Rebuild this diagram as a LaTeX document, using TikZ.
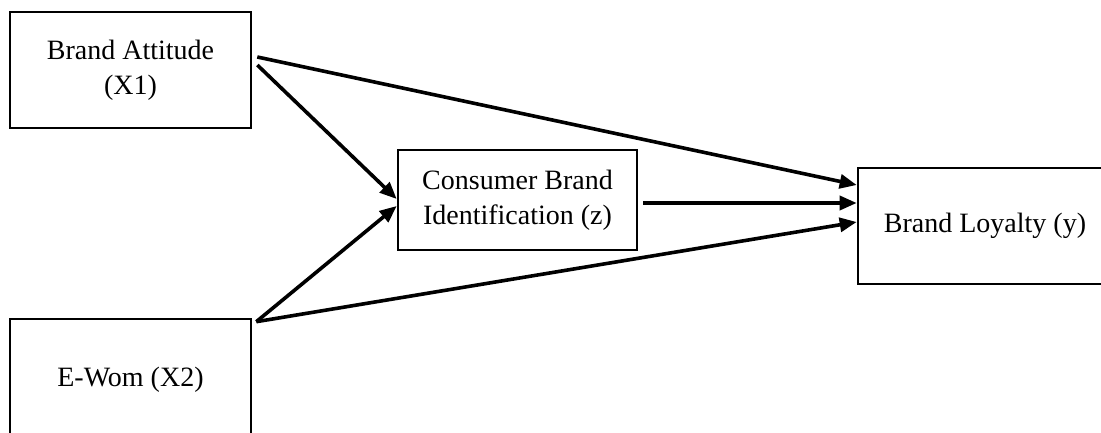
\documentclass[tikz,border=0pt]{standalone}
\usepackage{fontspec}
\setmainfont{Liberation Serif}
\usepackage{tikz}
\usetikzlibrary{arrows.meta, positioning}

\begin{document}
\begin{tikzpicture}[
	x = 1pt, y = -1pt,
	> = {Triangle[length=17pt,width=14pt]},
	box/.style = {draw, line width=2.6pt, align=center, inner sep=0pt,
		font=\fontsize{28}{35}\selectfont},
	link/.style = {->, line width=3.6pt}
	]
	\clip (0,0) rectangle (1101,433);
	\node[box, minimum width=241pt, minimum height=116pt] (X1) at (130.5,70) {Brand Attitude\\(X1)};
	\node[box, minimum width=241pt, minimum height=122pt] (X2) at (130.5,380) {E-Wom (X2)};
	\node[box, minimum width=239pt, minimum height=100pt] (Z) at (517.5,200) {Consumer Brand\\Identification (z)};
	\node[box, minimum width=254pt, minimum height=116pt] (Y) at (985,226) {Brand Loyalty (y)};
	\path[link]
	([xshift=5pt,yshift=13pt]X1.east) edge ([yshift=41pt]Y.west)
	([xshift=5pt,yshift=5pt]X1.east) edge ([yshift=1pt]Z.west)
	([xshift=4pt,yshift=-4pt]X2.north east) edge ([yshift=-6pt]Z.west)
	([xshift=4pt,yshift=-4pt]X2.north east) edge ([yshift=4pt]Y.west)
	([xshift=5pt,yshift=-3pt]Z.east) edge ([yshift=23pt]Y.west);
\end{tikzpicture}
\end{document}
